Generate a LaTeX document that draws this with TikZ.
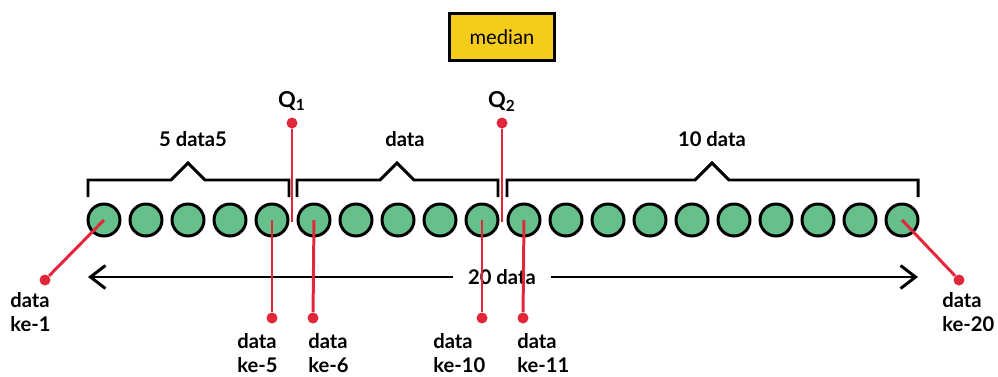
\documentclass[tikz,border=0pt]{standalone}
\usepackage{fontspec}
\setmainfont{Lato}
\usetikzlibrary{arrows.meta}
\definecolor{dotgreen}{HTML}{66C08C}
\definecolor{markred}{HTML}{E3273A}
\definecolor{boxyellow}{HTML}{F6CC1C}

\begin{document}
\begin{tikzpicture}[x=0.02cm, y=-0.02cm,
    item/.style={circle, draw, line width=1.7pt, fill=dotgreen, minimum size=0.64cm, inner sep=0pt},
    pin/.style={circle, fill=markred, minimum size=0.22cm, inner sep=0pt},
    pinline/.style={draw=markred, line width=1.7pt},
    lbl/.style={font=\bfseries\fontsize{11.5}{13.6}\selectfont, align=left, inner sep=0pt},
    brace/.style={line width=1.7pt},
    total/.style={line width=1.7pt, -{Straight Barb[length=0.3cm, width=0.46cm]}}
]
\useasboundingbox (0,0) rectangle (998,376);

% median box
\node[draw, line width=1.7pt, fill=boxyellow, minimum width=2.1cm, minimum height=0.94cm,
      font=\fontsize{11.5}{13.6}\selectfont] (median) at (502,37) {median};

% the 20 data
\foreach \i in {1,...,20}
    \node[item] (c\i) at ({104+(\i-1)*42},220) {};

% braces
\draw[brace] (88,197) -- (88,180) -- (171,180) -- (188,163) -- (205,180) -- (289,180) -- (289,197);
\draw[brace] (297,197) -- (297,180) -- (380,180) -- (397,163) -- (414,180) -- (498,180) -- (498,197);
\draw[brace] (507,197) -- (507,180) -- (695,180) -- (712,163) -- (729,180) -- (918,180) -- (918,197);
\node[lbl] (g1) at (193,139) {5 data5};
\node[lbl] (g2) at (405,139) {data};
\node[lbl] (g3) at (712,139) {10 data};

% quartiles
\node[lbl, font=\bfseries\fontsize{12.5}{14}\selectfont] (q1) at (292,101) {Q\textsubscript{1}};
\node[lbl, font=\bfseries\fontsize{12.5}{14}\selectfont] (q2) at (502,101) {Q\textsubscript{2}};
\node[pin] (p1) at (292,123) {};
\node[pin] (p2) at (502,123) {};
\coordinate (p1end) at (292,222);
\coordinate (p2end) at (502,222);
\draw[pinline] (p1) -- (p1end);
\draw[pinline] (p2) -- (p2end);

% total
\coordinate (tl) at (88,277);
\coordinate (tr) at (918,277);
\node[lbl, inner xsep=0.3cm] (tot) at (502,277) {20 data};
\draw[total] (tot.west) -- (tl);
\draw[total] (tot.east) -- (tr);

% pointers
\node[pin] (d1) at (45,280) {};
\node[pin] (d20) at (959,280) {};
\node[pin] (d5) at (272,318) {};
\node[pin] (d6) at (313,318) {};
\node[pin] (d10) at (482,318) {};
\node[pin] (d11) at (523,318) {};
\draw[pinline] (c1.center) -- (d1);
\draw[pinline] (c20.center) -- (d20);
\draw[pinline] (c5.center) -- (d5);
\draw[pinline] (c6.center) -- (d6);
\draw[pinline] (c10.center) -- (d10);
\draw[pinline] (c11.center) -- (d11);
\node[lbl, anchor=north west] (l1) at (10,292) {data\\ke-1};
\node[lbl, anchor=north west] (l20) at (942,292) {data\\ke-20};
\node[lbl, anchor=north west] (l5) at (237,333) {data\\ke-5};
\node[lbl, anchor=north west] (l6) at (308,333) {data\\ke-6};
\node[lbl, anchor=north west] (l10) at (433,333) {data\\ke-10};
\node[lbl, anchor=north west] (l11) at (517,333) {data\\ke-11};
\end{tikzpicture}
\end{document}
